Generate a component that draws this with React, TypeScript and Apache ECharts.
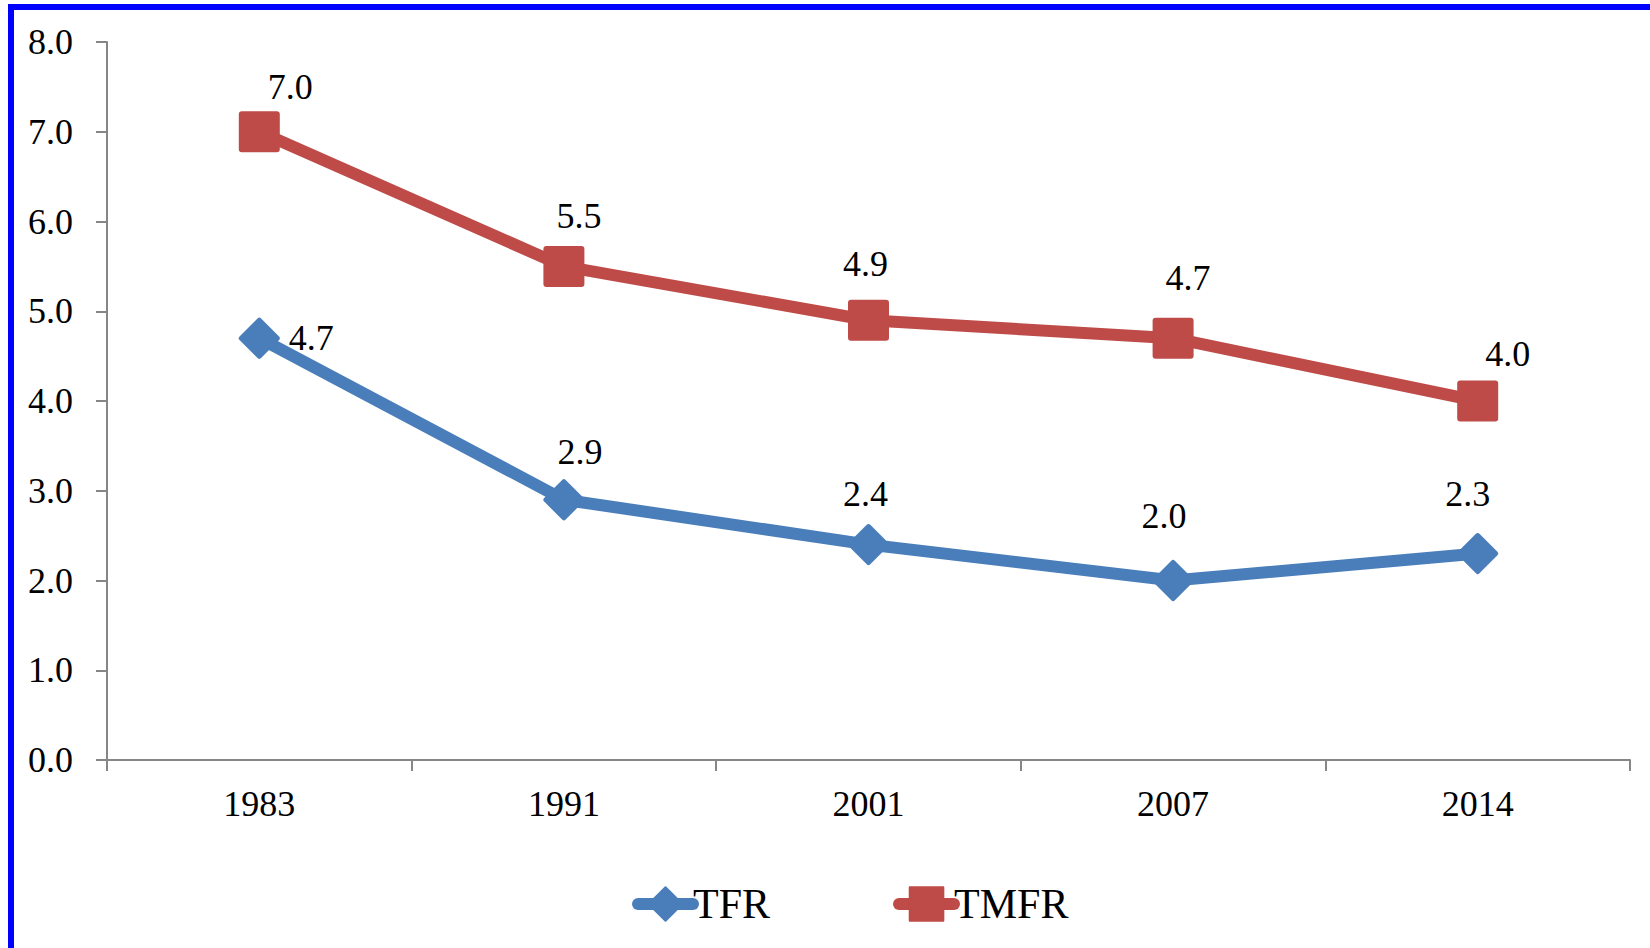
import React, { useEffect, useRef } from "react";
import * as echarts from "echarts";

const years = ["1983", "1991", "2001", "2007", "2014"];
const tfrValues = [4.7, 2.9, 2.4, 2.0, 2.3];
const tmfrValues = [7.0, 5.5, 4.9, 4.7, 4.0];
const yTicks = [0, 1, 2, 3, 4, 5, 6, 7, 8];

// label offsets relative to marker centre (styling only)
const tfrLabelOffsets = [[52, 0], [16, -48], [-3, -51], [-9, -65], [-10, -60]];
const tmfrLabelOffsets = [[31, -45], [15, -50], [-3, -56], [15, -60], [30, -47]];

const FONT = "'Liberation Serif', 'Times New Roman', serif";
const BLUE = "#4A7EBB";
const RED = "#BE4B48";
const AXIS = "#868686";

export default function App() {
  const ref = useRef<HTMLDivElement>(null);
  useEffect(() => {
    if (!ref.current) return;
    const chart = echarts.init(ref.current, null, { renderer: "svg" });
    const mk = (vals: number[], offs: number[][]) =>
      vals.map((v, i) => ({
        value: v,
        label: { offset: offs[i] },
      }));
    const labelBase = {
      show: true,
      position: "inside",
      color: "#000",
      fontFamily: FONT,
      fontSize: 36,
      textBorderWidth: 0,
      formatter: (p: any) => Number(p.value).toFixed(1),
    };
    chart.setOption({
      animation: false,
      backgroundColor: "#fff",
      graphic: [
        {
          type: "rect",
          shape: { x: 11, y: 7, width: 1800, height: 1100 },
          style: { fill: "none", stroke: "#0000FF", lineWidth: 6 },
          silent: true,
        },
      ],
      grid: { left: 107, right: 20, top: 42, bottom: 188, containLabel: false },
      xAxis: {
        type: "category",
        data: years,
        boundaryGap: true,
        axisLine: { show: true, lineStyle: { color: AXIS, width: 2 } },
        axisTick: { show: true, length: 11, lineStyle: { color: AXIS, width: 2 } },
        axisLabel: { color: "#000", fontFamily: FONT, fontSize: 36, margin: 26 },
        splitLine: { show: false },
      },
      yAxis: {
        type: "value",
        min: yTicks[0],
        max: yTicks[yTicks.length - 1],
        interval: 1,
        axisLine: { show: true, lineStyle: { color: AXIS, width: 2 } },
        axisTick: { show: true, length: 11, lineStyle: { color: AXIS, width: 2 } },
        axisLabel: {
          color: "#000",
          fontFamily: FONT,
          fontSize: 36,
          margin: 34,
          formatter: (v: number) => v.toFixed(1),
        },
        splitLine: { show: false },
      },
      legend: {
        left: 632,
        top: 883,
        padding: 0,
        itemWidth: 55,
        itemHeight: 42,
        itemGap: 123,
        lineStyle: { width: 12, cap: "round" },
        textStyle: {
          color: "#000",
          fontFamily: FONT,
          fontSize: 42,
          lineHeight: 42,
          padding: [0, 0, 0, -5],
        },
        data: ["TFR", "TMFR"],
      },
      series: [
        {
          name: "TFR",
          type: "line",
          data: mk(tfrValues, tfrLabelOffsets),
          symbol: "diamond",
          symbolSize: 36,
          lineStyle: { color: BLUE, width: 12 },
          itemStyle: { color: BLUE, borderColor: BLUE, borderWidth: 5, borderJoin: "round" },
          label: labelBase,
          z: 3,
        },
        {
          name: "TMFR",
          type: "line",
          data: mk(tmfrValues, tmfrLabelOffsets),
          symbol: "rect",
          symbolSize: 35,
          lineStyle: { color: RED, width: 12 },
          itemStyle: { color: RED, borderColor: RED, borderWidth: 6, borderJoin: "round" },
          label: labelBase,
          z: 3,
        },
      ],
    });
    return () => chart.dispose();
  }, []);
  return (
    <div
      ref={ref}
      style={{ position: "fixed", left: 0, top: 0, width: 1650, height: 948, background: "#fff" }}
    />
  );
}
